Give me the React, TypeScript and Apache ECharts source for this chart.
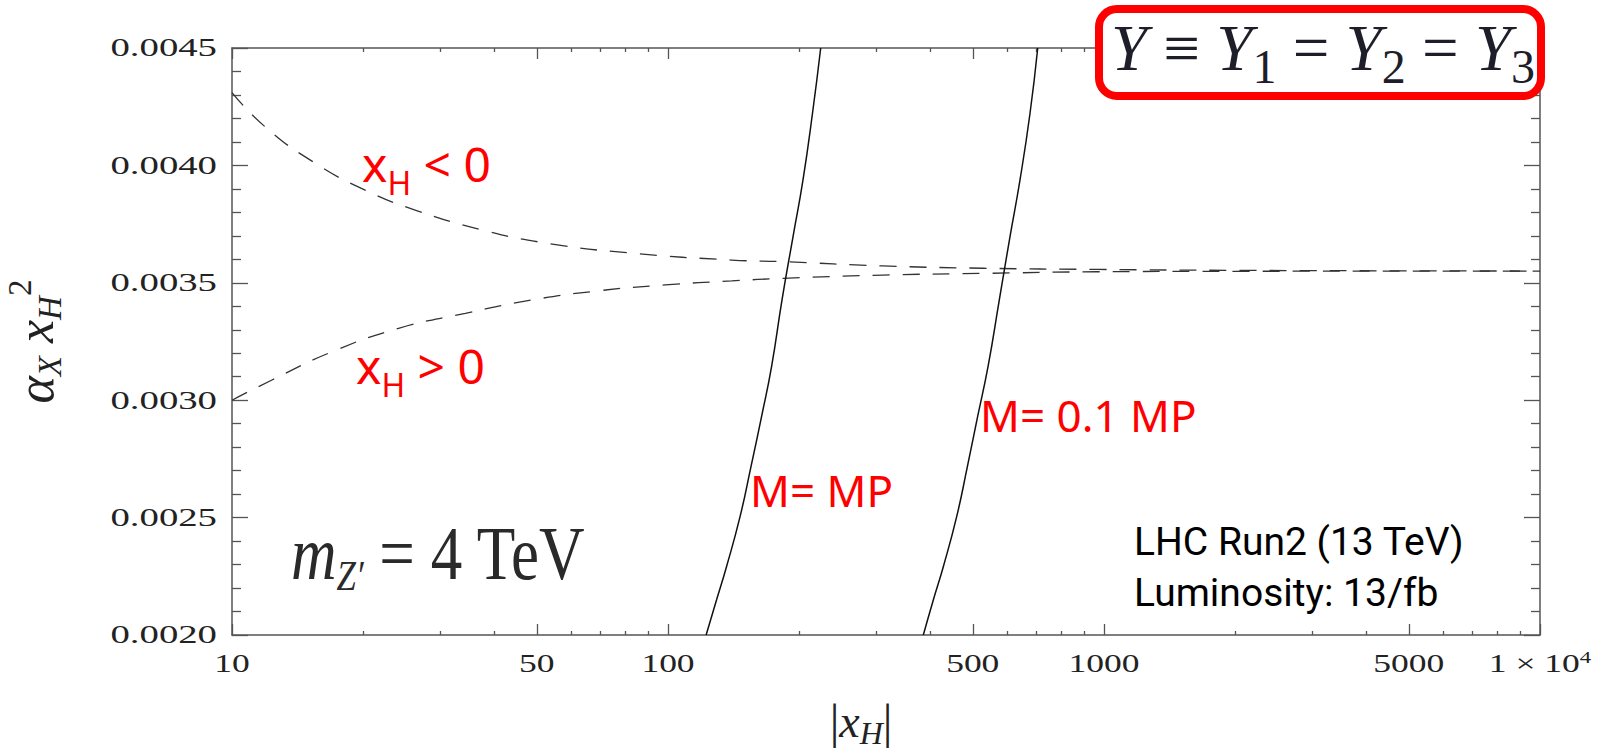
import React, { useEffect, useRef } from "react";
import * as echarts from "echarts";

// ---- axis ticks / tick labels ----
const xMajorTicks = [10, 50, 100, 500, 1000, 5000, 10000];
const xMinorTicks = [20, 30, 40, 60, 70, 80, 90, 200, 300, 400, 600, 700, 800, 900, 2000, 3000, 4000, 6000, 7000, 8000, 9000];
const yTicks = [0.002, 0.0025, 0.003, 0.0035, 0.004, 0.0045];
const yMin = 0.002;
const yMax = 0.0045;
const yStep = 0.0005;

// ---- series values: [|x_H|, alpha_X x_H^2] ----
const xhNegative: [number, number][] = [
  [10, 0.00431], [11.9, 0.004165], [15.5, 0.00401], [20.2, 0.003895], [26.3, 0.00381],
  [37.5, 0.003725], [53, 0.003668], [83, 0.003626], [140, 0.003597], [184, 0.00359],
  [311, 0.003572], [528, 0.003562], [964, 0.003557], [2000, 0.003553], [10000, 0.00355],
];
const xhPositive: [number, number][] = [
  [10, 0.003], [12.35, 0.003086], [17, 0.003207], [24.1, 0.003306], [34.3, 0.00337],
  [48.8, 0.003427], [69.4, 0.003466], [98.6, 0.003491], [140, 0.003508], [184, 0.003519],
  [311, 0.003533], [528, 0.00354], [964, 0.003547], [2000, 0.003549], [10000, 0.00355],
];
const mEqualsMP: [number, number][] = [
  [122.3, 0.002], [129.2, 0.002149], [136.2, 0.002291], [146.3, 0.002504], [155.0, 0.002717],
  [163.9, 0.00293], [172.8, 0.003143], [182.6, 0.003427], [193.5, 0.003696], [204.0, 0.003938],
  [214.5, 0.004222], [224, 0.0045],
];
const mEqualsTenthMP: [number, number][] = [
  [385.1, 0.002], [406, 0.002149], [428, 0.002291], [459.3, 0.002504], [486, 0.002717],
  [513, 0.00293], [542, 0.003143], [575.3, 0.003427], [608.6, 0.003696], [641.7, 0.003938],
  [676.6, 0.004222], [704.7, 0.0045],
];

const SERIF = "Liberation Serif";
const SANS = "Noto Sans";
const AXIS_COLOR = "#555";
const LABEL_COLOR = "#222";

export default function App() {
  const ref = useRef<HTMLDivElement>(null);

  useEffect(() => {
    const chart = echarts.init(ref.current as HTMLDivElement, null, { renderer: "svg" });

    const lineStyle = { color: AXIS_COLOR, width: 1.5 };
    const tickLine = { color: AXIS_COLOR, width: 1.3 };

    const xBase = (position: "bottom" | "top") => ({
      type: "log" as const,
      logBase: 10,
      min: 10,
      max: 10000,
      position,
      splitLine: { show: false },
      minorTick: { show: false },
      minorSplitLine: { show: false },
      axisLabel: { show: false },
    });

    const yBase = (position: "left" | "right") => ({
      type: "value" as const,
      min: yMin,
      max: yMax,
      interval: yStep,
      position,
      axisLine: { show: true, onZero: false, lineStyle },
      axisTick: { show: true, inside: true, length: 16, lineStyle: tickLine },
      minorTick: { show: true, splitNumber: 5, length: 9, lineStyle: tickLine },
      splitLine: { show: false },
      minorSplitLine: { show: false },
      axisLabel: { show: false },
    });

    const baseGraphics: any[] = [
      {
        type: "rect",
        z: 50,
        shape: { x: 1099, y: 9, width: 442, height: 87, r: 18 },
        style: { fill: "#fff", stroke: "#ff0000", lineWidth: 8 },
      },
      {
        type: "text",
        z: 51,
        x: 1111,
        y: 48,
        style: {
          text: "{i|Y} ≡ {i|Y}{s|1} = {i|Y}{s|2} = {i|Y}{s|3}",
          align: "left",
          verticalAlign: "middle",
          font: "65px " + SERIF,
          fill: "#1e1e2a",
          rich: {
            i: { fontFamily: SERIF, fontStyle: "italic", fontSize: 65, fill: "#1e1e2a" },
            s: { fontFamily: SERIF, fontSize: 48, fill: "#1e1e2a", padding: [36, 0, 0, 0] },
          },
        },
      },
      {
        type: "text",
        z: 51,
        x: 291,
        y: 553,
        scaleX: 0.83,
        style: {
          text: "{i|m}{s|Z′} = 4 TeV",
          align: "left",
          verticalAlign: "middle",
          font: "76px " + SERIF,
          fill: "#2a2a2a",
          rich: {
            i: { fontFamily: SERIF, fontStyle: "italic", fontSize: 76, fill: "#2a2a2a" },
            s: { fontFamily: SERIF, fontStyle: "italic", fontSize: 42, fill: "#2a2a2a", padding: [46, 0, 0, 0] },
          },
        },
      },
      {
        type: "text",
        z: 51,
        x: 362,
        y: 163,
        style: {
          text: "{m|x}{s|H}{m| < 0}",
          align: "left",
          verticalAlign: "middle",
          font: "48px " + SANS,
          fill: "#ff0000",
          rich: {
            m: { fontFamily: SANS, fontSize: 48, fill: "#ff0000" },
            s: { fontFamily: SANS, fontSize: 32, fill: "#ff0000", padding: [39, 0, 0, 0] },
          },
        },
      },
      {
        type: "text",
        z: 51,
        x: 356,
        y: 365,
        style: {
          text: "{m|x}{s|H}{m| > 0}",
          align: "left",
          verticalAlign: "middle",
          font: "48px " + SANS,
          fill: "#ff0000",
          rich: {
            m: { fontFamily: SANS, fontSize: 48, fill: "#ff0000" },
            s: { fontFamily: SANS, fontSize: 32, fill: "#ff0000", padding: [39, 0, 0, 0] },
          },
        },
      },
      {
        type: "text",
        z: 51,
        x: 750,
        y: 490,
        style: { text: "M= MP", align: "left", verticalAlign: "middle", font: "44px " + SANS, fill: "#ff0000" },
      },
      {
        type: "text",
        z: 51,
        x: 980,
        y: 415,
        style: { text: "M= 0.1 MP", align: "left", verticalAlign: "middle", font: "44px " + SANS, fill: "#ff0000" },
      },
      {
        type: "text",
        z: 51,
        x: 1134,
        y: 542,
        style: { text: "LHC Run2 (13 TeV)", align: "left", verticalAlign: "middle", font: "39px Roboto", fill: "#000" },
      },
      {
        type: "text",
        z: 51,
        x: 1134,
        y: 593,
        style: { text: "Luminosity: 13/fb", align: "left", verticalAlign: "middle", font: "39px Roboto", fill: "#000" },
      },
    ];

    const option: any = {
      animation: false,
      backgroundColor: "#fff",
      grid: { left: 232, top: 48, right: 64, bottom: 115, containLabel: false, outerBoundsMode: "none" },
      xAxis: [
        {
          ...xBase("bottom"),
          axisLine: { show: true, onZero: false, lineStyle },
          axisTick: { show: true, inside: true, length: 11, customValues: xMajorTicks, lineStyle: tickLine },
          name: "{a||}{b|x}{sub|H}{a||}",
          nameLocation: "middle",
          nameGap: 58,
          nameTextStyle: {
            fontFamily: SERIF,
            fontSize: 46,
            color: LABEL_COLOR,
            padding: [0, 50, 0, 0],
            rich: {
              a: { fontFamily: SERIF, fontSize: 48, color: LABEL_COLOR },
              b: { fontFamily: SERIF, fontStyle: "italic", fontSize: 46, color: LABEL_COLOR },
              sub: { fontFamily: SERIF, fontStyle: "italic", fontSize: 32, color: LABEL_COLOR, padding: [24, 0, 0, 0] },
            },
          },
        },
        {
          ...xBase("bottom"),
          axisLine: { show: false },
          axisTick: { show: true, inside: true, length: 4, customValues: xMinorTicks, lineStyle: tickLine },
        },
        {
          ...xBase("top"),
          axisLine: { show: true, onZero: false, lineStyle },
          axisTick: { show: true, inside: true, length: 11, customValues: xMajorTicks, lineStyle: tickLine },
        },
        {
          ...xBase("top"),
          axisLine: { show: false },
          axisTick: { show: true, inside: true, length: 4, customValues: xMinorTicks, lineStyle: tickLine },
        },
      ],
      yAxis: [
        {
          ...yBase("left"),
          name: "{a|α}{sub|X} {a|x}{sub|H}{sup|2}",
          nameLocation: "middle",
          nameRotate: 90,
          nameGap: 164,
          nameTextStyle: {
            fontFamily: SERIF,
            fontSize: 52,
            color: LABEL_COLOR,
            rich: {
              a: { fontFamily: SERIF, fontStyle: "italic", fontSize: 52, color: LABEL_COLOR },
              sub: { fontFamily: SERIF, fontStyle: "italic", fontSize: 33, color: LABEL_COLOR, padding: [28, 0, 0, 0] },
              sup: { fontFamily: SERIF, fontSize: 33, color: LABEL_COLOR, padding: [0, 0, 32, 0] },
            },
          },
        },
        yBase("right"),
      ],
      series: [
        { name: "x_H < 0", type: "line", data: xhNegative, smooth: true, symbol: "none", silent: true, lineStyle: { color: "#333", width: 1.3, type: [17, 13] } },
        { name: "x_H > 0", type: "line", data: xhPositive, smooth: true, symbol: "none", silent: true, lineStyle: { color: "#333", width: 1.3, type: [17, 13] } },
        { name: "M= MP", type: "line", data: mEqualsMP, smooth: true, symbol: "none", silent: true, lineStyle: { color: "#111", width: 1.5 } },
        { name: "M= 0.1 MP", type: "line", data: mEqualsTenthMP, smooth: true, symbol: "none", silent: true, lineStyle: { color: "#111", width: 1.5 } },
      ],
      graphic: baseGraphics,
    };

    chart.setOption(option);

    // Tick labels placed through the axes' own scales (wide Mathematica-style lettering).
    const tickLabelGraphics: any[] = [];
    const axisLeftPx = chart.convertToPixel({ xAxisIndex: 0 }, 10) as number;
    const axisBottomPx = chart.convertToPixel({ yAxisIndex: 0 }, yMin) as number;
    yTicks.forEach((v) => {
      const py = chart.convertToPixel({ yAxisIndex: 0 }, v) as number;
      tickLabelGraphics.push({
        type: "text",
        z: 40,
        x: axisLeftPx - 15,
        y: py,
        scaleX: 1.55,
        style: { text: v.toFixed(4), align: "right", verticalAlign: "middle", font: "25px " + SERIF, fill: LABEL_COLOR },
      });
    });
    xMajorTicks.forEach((v) => {
      const px = chart.convertToPixel({ xAxisIndex: 0 }, v) as number;
      const isTop = v === 10000;
      tickLabelGraphics.push({
        type: "text",
        z: 40,
        x: px,
        y: axisBottomPx + 29,
        scaleX: 1.42,
        style: {
          text: isTop ? "{v|1 × 10}{sup|4}" : String(v),
          align: "center",
          verticalAlign: "middle",
          font: "25px " + SERIF,
          fill: LABEL_COLOR,
          rich: {
            v: { fontFamily: SERIF, fontSize: 25, fill: LABEL_COLOR },
            sup: { fontFamily: SERIF, fontSize: 16, fill: LABEL_COLOR, padding: [0, 0, 14, 0] },
          },
        },
      });
    });
    chart.setOption({ graphic: [...baseGraphics, ...tickLabelGraphics] });

    return () => chart.dispose();
  }, []);

  return (
    <div
      ref={ref}
      style={{ position: "fixed", left: 0, top: 0, width: 1604, height: 750, background: "#fff" }}
    />
  );
}
